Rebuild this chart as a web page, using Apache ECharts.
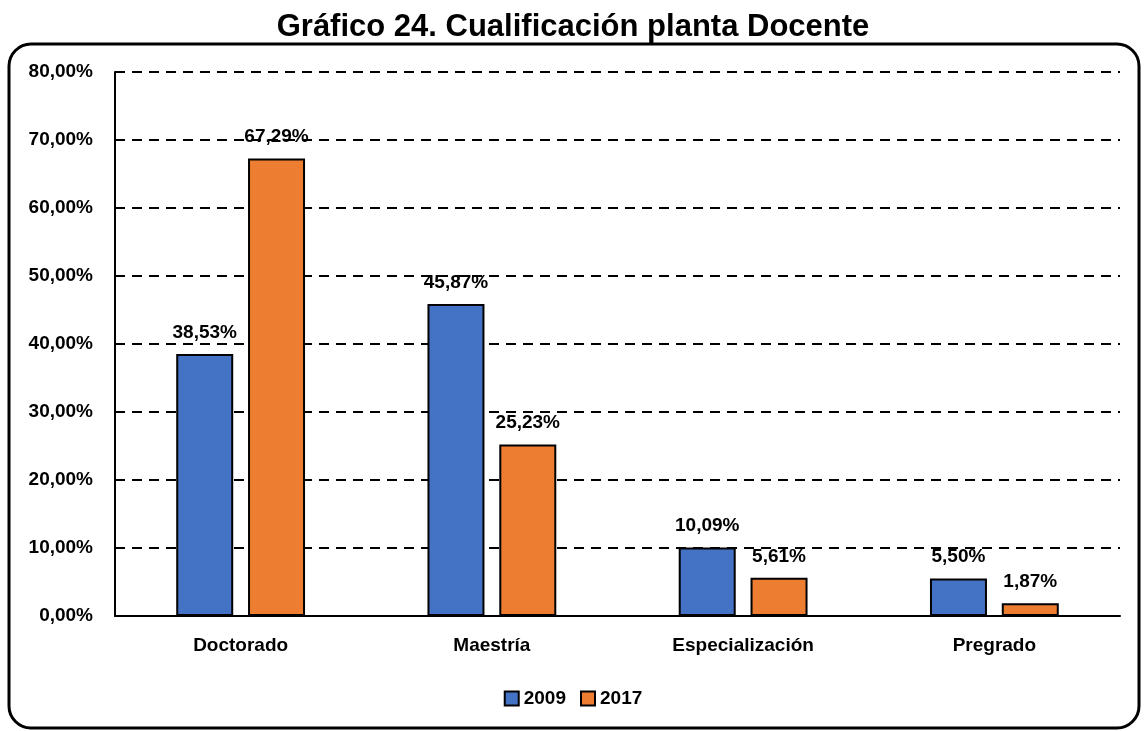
<!DOCTYPE html>
<html>
<head>
<meta charset="utf-8">
<script src="https://cdn.jsdelivr.net/npm/echarts@6/dist/echarts.min.js"></script>
<style>
  html, body { margin: 0; padding: 0; background: #fff; }
  #chart { width: 1146px; height: 731px; }
</style>
</head>
<body>
<div id="chart"></div>
<script>
// datos del gráfico
var categorias = ['Doctorado', 'Maestría', 'Especialización', 'Pregrado'];
var serie2009 = [38.53, 45.87, 10.09, 5.50];
var serie2017 = [67.29, 25.23, 5.61, 1.87];
var anios = ['2009', '2017'];

var fuente = "'Liberation Sans Narrow', 'Arial Narrow', 'Liberation Sans', sans-serif";

function pct(v) {
    return v.toFixed(2).replace('.', ',') + '%';
}

var myChart = echarts.init(document.getElementById('chart'));

var etiqueta = {
    show: true,
    position: 'top',
    distance: 12,
    fontFamily: fuente,
    fontWeight: 'bold',
    fontSize: 19,
    color: '#000',
    formatter: function (p) { return pct(p.value); }
};

option = {
    backgroundColor: '#fff',
    animation: false,
    title: {
        text: 'Gráfico 24. Cualificación planta Docente',
        left: 'center',
        top: 7,
        textStyle: {
            fontFamily: "'Liberation Sans', Arial, sans-serif",
            fontWeight: 'bold',
            fontSize: 31,
            color: '#000'
        }
    },
    graphic: [{
        type: 'rect',
        shape: { x: 9, y: 44, width: 1130, height: 684, r: 22 },
        style: { fill: 'none', stroke: '#000', lineWidth: 3 },
        z: -1
    }],
    legend: {
        data: anios,
        bottom: 18,
        left: 'center',
        itemWidth: 14,
        itemHeight: 14,
        itemGap: 14,
        icon: 'rect',
        itemStyle: { borderColor: '#000', borderWidth: 2 },
        textStyle: {
            fontFamily: fuente,
            fontWeight: 'bold',
            fontSize: 19,
            color: '#000'
        }
    },
    grid: {
        left: 115,
        right: 26,
        top: 72,
        bottom: 115
    },
    xAxis: {
        type: 'category',
        data: categorias,
        axisLine: { lineStyle: { color: '#000', width: 2 } },
        axisTick: { show: false },
        axisLabel: {
            margin: 20,
            fontFamily: fuente,
            fontWeight: 'bold',
            fontSize: 19,
            color: '#000'
        }
    },
    yAxis: {
        type: 'value',
        min: 0,
        max: 80,
        interval: 10,
        axisLine: { show: true, lineStyle: { color: '#000', width: 2 } },
        axisTick: { show: false },
        axisLabel: {
            margin: 22,
            fontFamily: fuente,
            fontWeight: 'bold',
            fontSize: 19,
            color: '#000',
            formatter: function (v) { return pct(v); }
        },
        splitLine: {
            lineStyle: { color: '#000', width: 2, type: [10, 7] }
        }
    },
    series: [
        {
            name: anios[0],
            type: 'bar',
            data: serie2009,
            barWidth: 57,
            barGap: '26%',
            itemStyle: { color: '#4472C4', borderColor: '#000', borderWidth: 2 },
            label: etiqueta
        },
        {
            name: anios[1],
            type: 'bar',
            data: serie2017,
            barWidth: 57,
            itemStyle: { color: '#ED7D31', borderColor: '#000', borderWidth: 2 },
            label: etiqueta
        }
    ]
};

myChart.setOption(option);
window.onresize = function () {
    myChart.resize();
};
</script>
</body>
</html>
